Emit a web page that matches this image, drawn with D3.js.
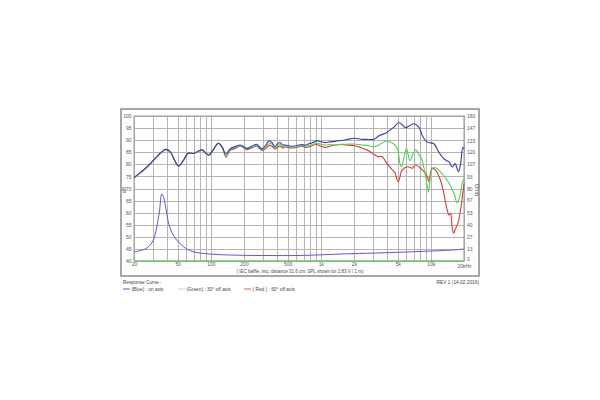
<!DOCTYPE html>
<meta charset="utf-8">
<style>
body { margin: 0; background: #fff; }
text { font-family: "Liberation Sans", Arial, sans-serif; fill: #444; }
.grid line { stroke: #b4b4b4; stroke-width: 1px; shape-rendering: crispEdges; }
.spl { fill: none; stroke-width: 1.1px; }
.imp { fill: none; stroke: #5a5ad0; stroke-width: 1px; }
.axis path, .axis line { display: none; }
.axis text { font-size: 5px; fill: #555; }
</style>
<svg width="600" height="400"></svg>
<script src="https://d3js.org/d3.v7.min.js"></script>
<script>

// --- data (freq Hz, dB) ---
var freqTicks = [20,30,40,50,60,70,80,90,100,200,300,400,500,600,700,800,900,1000,2000,3000,4000,5000,6000,7000,8000,9000,10000,20000];
var freqLabels = [[20,"20"],[50,"50"],[100,"100"],[200,"200"],[500,"500"],[1000,"1k"],[2000,"2k"],[5000,"5k"],[10000,"10k"],[20000,"20kHz"]];
var dbTicks = [40,45,50,55,60,65,70,75,80,85,90,95,100];
var ohmTicks = [0,13,27,40,53,67,80,93,107,120,133,147,160];

var lowEnd = [[20,74.5],[25,78],[30,81.6],[35,84.8],[39,86.2],[43,85],[47,81.5],[51,79.3],[56,81.5],[62,84.6],[70,84.5],[78,85.6],[83,86],[90,84.6],[96,83.9],[105,86],[117,88.7],[127,87]];

var onAxis = lowEnd.concat([[137,84.2],[150,86.5],[165,87.3],[185,88],[200,87.2],[212,86.6],[235,87.5],[261,88.3],[290,86.4],[315,87.8],[338,89.7],[360,89],[383,87.3],[405,88.5],[426,89],[450,88],[475,88],[520,87.6],[560,87.5],[610,87.8],[670,88.2],[720,87.9],[790,88.6],[855,89],[920,89.8],[1000,89.4],[1100,89],[1200,89.3],[1350,89.5],[1500,89.8],[1700,90.2],[2000,90.8],[2300,90.4],[2700,90.3],[3000,90.3],[3440,92],[3950,93.1],[4600,95.4],[5100,97.2],[5450,96.5],[5880,95.2],[6400,96],[7000,96.8],[7780,95.4],[8340,92],[9270,89.2],[10650,88.5],[11800,85.1],[13100,82.3],[14600,81],[15700,78.9],[16600,80.3],[17800,77],[18600,80],[19500,87],[20000,86.4]]);

var offAxis30 = lowEnd.concat([[137,83.4],[150,86],[165,87],[185,87.6],[200,86.8],[212,86.4],[235,87],[261,87.8],[290,86.2],[315,87],[338,88.5],[360,88.4],[383,86.8],[405,87.5],[426,88.2],[450,87.3],[475,87.8],[520,87.2],[560,87],[610,87.2],[670,87.8],[720,87.5],[790,87.8],[855,88.3],[920,88.7],[1000,88.3],[1100,88],[1200,88.2],[1350,88],[1500,88.3],[1700,88.3],[2000,88.4],[2400,88],[2700,87.7],[3000,87.3],[3300,87.8],[3600,88.8],[3900,89.6],[4300,89.2],[4700,88],[5000,86],[5250,80],[5400,79],[5750,83.7],[6000,86.5],[6200,84],[6450,81.5],[6900,84.5],[7300,86],[7800,84],[8200,82.5],[8700,78],[9200,72],[9500,68.5],[9850,74],[10240,78],[11000,78.6],[12400,76.5],[14500,72.5],[15800,69],[16600,66.6],[17300,64],[18300,66.6],[19200,72],[20000,74]]);

var offAxis60 = lowEnd.concat([[137,83],[150,85.8],[165,86.5],[185,87.5],[200,86.8],[212,86],[235,86.8],[261,87.5],[290,85.8],[315,86.5],[338,87.8],[360,87.5],[383,86.3],[405,87],[426,87.5],[450,86.8],[475,87.2],[520,86.8],[560,86.8],[610,87],[670,87.5],[720,87],[790,87.3],[855,88],[920,88.2],[1000,87.5],[1100,87],[1200,87.5],[1350,88],[1500,88.2],[1700,88],[2000,87.8],[2300,87],[2600,86],[3000,84.3],[3300,83.2],[3600,83.2],[3900,81],[4300,78.5],[4700,76.5],[5050,72.8],[5480,77.7],[6160,79],[6770,78.4],[7250,79.7],[8350,77.7],[9270,75],[9560,72.8],[10240,78.4],[11000,77.7],[12200,73.5],[13100,68],[14000,61.5],[14600,59],[15100,59.7],[15600,54],[16100,51.5],[16600,53],[17200,54.5],[17800,56.3],[19000,64],[20000,72]]);

// impedance, Ohm
var impedance = [[20,10],[23,11.5],[26,14],[28,17.5],[30,23],[32,36],[34,54],[35.8,74],[37.1,71],[39,58],[41,43],[44,32],[49,23],[56,16],[69,10.3],[98,7.7],[150,6.6],[250,6.1],[450,6],[650,6.1],[1000,6.8],[1500,7.7],[2600,8.5],[5000,9.6],[10000,11],[15000,12],[20000,13.2]];

var svg = d3.select("svg"),
    plot = {left: 134, right: 464, top: 116, bottom: 261};

var x = d3.scaleLog().domain([20, 20000]).range([plot.left, plot.right]),
    y = d3.scaleLinear().domain([40, 100]).range([plot.bottom, plot.top]),
    yOhm = d3.scaleLinear().domain([0, 160]).range([plot.bottom, plot.top]);

// outer frame
svg.append("rect")
    .attr("x", 121).attr("y", 109)
    .attr("width", 358).attr("height", 167)
    .attr("fill", "#fff")
    .attr("stroke", "#8a8a8a")
    .attr("stroke-width", 1.5);

// grid
var grid = svg.append("g").attr("class", "grid");
grid.selectAll(".v").data(freqTicks).enter().append("line")
    .attr("x1", function(d) { return Math.round(x(d)) + 0.5; })
    .attr("x2", function(d) { return Math.round(x(d)) + 0.5; })
    .attr("y1", plot.top).attr("y2", plot.bottom);
grid.selectAll(".h").data(dbTicks).enter().append("line")
    .attr("y1", function(d) { return Math.round(y(d)) + 0.5; })
    .attr("y2", function(d) { return Math.round(y(d)) + 0.5; })
    .attr("x1", plot.left).attr("x2", plot.right);

svg.append("rect")
    .attr("x", plot.left).attr("y", plot.top)
    .attr("width", plot.right - plot.left).attr("height", plot.bottom - plot.top)
    .attr("fill", "none").attr("stroke", "#999").attr("stroke-width", 1);

// green baseline along the bottom
svg.append("line")
    .attr("x1", plot.left).attr("x2", plot.right)
    .attr("y1", y(40)).attr("y2", y(40))
    .attr("stroke", "#5fcf5f").attr("stroke-width", 1);

// axes
svg.append("g").attr("class", "axis")
    .attr("transform", "translate(" + plot.left + ",0)")
    .call(d3.axisLeft(y).tickValues(dbTicks).tickSize(0).tickPadding(2.5));

var ohmAxis = svg.append("g").attr("class", "axis")
    .attr("transform", "translate(" + plot.right + ",0)")
    .call(d3.axisRight(yOhm).tickValues(ohmTicks).tickSize(0).tickPadding(3));
// lift the "0" a little so it clears the 20kHz label
ohmAxis.selectAll(".tick").filter(function(d) { return d === 0; })
    .select("text").attr("dy", "-0.05em");

var fAxis = svg.append("g").attr("class", "axis")
    .attr("transform", "translate(0," + plot.bottom + ")")
    .call(d3.axisBottom(x).tickValues(freqLabels.map(function(d) { return d[0]; }))
      .tickFormat(function(d) { return freqLabels.find(function(l) { return l[0] === d; })[1]; })
      .tickSize(0).tickPadding(1.5));
fAxis.selectAll(".tick").filter(function(d) { return d === 20000; })
    .select("text").attr("dy", "1.05em");

svg.append("text")
    .attr("transform", "translate(126,190) rotate(-90)")
    .attr("text-anchor", "middle")
    .style("font-size", "5px")
    .text("dB");

svg.append("text")
    .attr("transform", "translate(475,190) rotate(90)")
    .attr("text-anchor", "middle")
    .style("font-size", "5.5px")
    .text("Ohm");

svg.append("text")
    .attr("x", 300).attr("y", 272.5)
    .attr("text-anchor", "middle")
    .style("font-size", "4.5px")
    .text("( IEC baffle, mic. distance 31.6 cm, SPL shown for 2.83 V / 1 m)");

// curves
var line = d3.line()
    .curve(d3.curveCatmullRom)
    .x(function(d) { return x(d[0]); })
    .y(function(d) { return y(d[1]); });

var ohmLine = d3.line()
    .curve(d3.curveCatmullRom)
    .x(function(d) { return x(d[0]); })
    .y(function(d) { return yOhm(d[1]); });

svg.append("path").datum(impedance).attr("class", "imp").attr("d", ohmLine);

svg.append("path").datum(offAxis60).attr("class", "spl").attr("stroke", "#d83a3a").attr("d", line);
svg.append("path").datum(offAxis30).attr("class", "spl").attr("stroke", "#52d052").attr("d", line);
svg.append("path").datum(onAxis).attr("class", "spl").attr("stroke", "#3a3ab4").attr("d", line);

// legend
svg.append("text").attr("x", 123).attr("y", 283.5).style("font-size", "4.8px").text("Response Curve :");
svg.append("text").attr("x", 479).attr("y", 283.5).attr("text-anchor", "end").style("font-size", "4.8px").text("REV 1 (14.02.2016)");

var legend = [
  {x: 123, color: "#3a3ab4", label: "(Blue) : on axis"},
  {x: 178, color: "#9ad89a", label: "(Green) : 30\u00b0 off axis"},
  {x: 244, color: "#d83a3a", label: "( Red ) : 60\u00b0 off axis"}
];
var lg = svg.selectAll(".lg").data(legend).enter().append("g");
lg.append("line")
    .attr("x1", function(d) { return d.x; })
    .attr("x2", function(d) { return d.x + 7; })
    .attr("y1", 289).attr("y2", 289)
    .attr("stroke", function(d) { return d.color; })
    .attr("stroke-width", 0.8);
lg.append("text")
    .attr("x", function(d) { return d.x + 8.5; })
    .attr("y", 290.6)
    .style("font-size", "4.8px")
    .text(function(d) { return d.label; });

</script>
